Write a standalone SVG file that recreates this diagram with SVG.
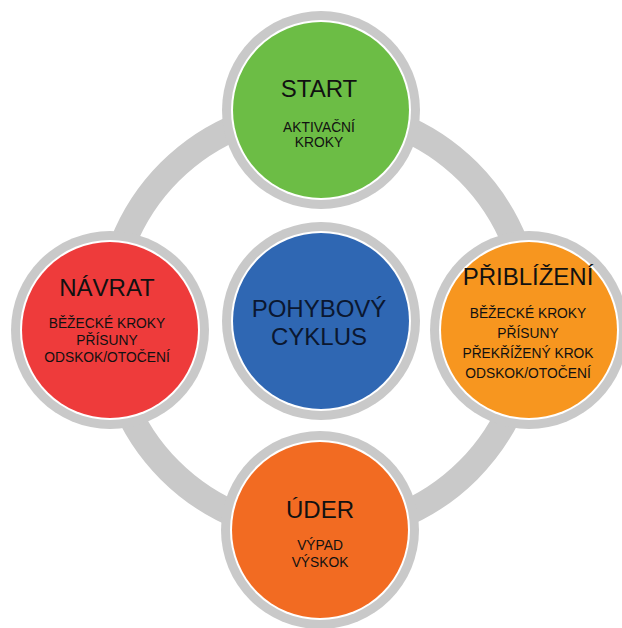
<svg xmlns="http://www.w3.org/2000/svg" width="622" height="628" viewBox="0 0 622 628">
<style>
.g{fill:#c9c9c9}
.w{fill:#ffffff}
.t{font-family:"Liberation Sans",Arial,sans-serif;text-anchor:middle;fill:#111111}
.h{font-size:24px}
.s{font-size:13.8px}
</style>
<rect width="622" height="628" fill="#ffffff"/>
<g id="connectors">
<circle cx="319" cy="321" r="211" fill="none" stroke="#c9c9c9" stroke-width="26"/>
</g>
<g id="start">
<circle class="g" cx="321" cy="110" r="99"/>
<circle class="w" cx="321" cy="110" r="90"/>
<circle cx="321" cy="110" r="88" fill="#6cbd45"/>
<text class="t h" x="319" y="97">START</text>
<text class="t s" x="319" y="132">AKTIVAČNÍ</text>
<text class="t s" x="319" y="147">KROKY</text>
</g>
<g id="priblizeni">
<circle class="g" cx="529" cy="330" r="99"/>
<circle class="w" cx="529" cy="330" r="90"/>
<circle cx="529" cy="330" r="88" fill="#f7961f"/>
<text class="t h" x="528" y="285">PŘIBLÍŽENÍ</text>
<text class="t s" x="528" y="318">BĚŽECKÉ KROKY</text>
<text class="t s" x="528" y="338">PŘÍSUNY</text>
<text class="t s" x="528" y="358">PŘEKŘÍŽENÝ KROK</text>
<text class="t s" x="528" y="378">ODSKOK/OTOČENÍ</text>
</g>
<g id="uder">
<circle class="g" cx="320" cy="530" r="99"/>
<circle class="w" cx="320" cy="530" r="90"/>
<circle cx="320" cy="530" r="88" fill="#f26b22"/>
<text class="t h" x="320" y="518">ÚDER</text>
<text class="t s" x="320" y="550">VÝPAD</text>
<text class="t s" x="320" y="567">VÝSKOK</text>
</g>
<g id="navrat">
<circle class="g" cx="110" cy="330" r="99"/>
<circle class="w" cx="110" cy="330" r="90"/>
<circle cx="110" cy="330" r="88" fill="#ee3b3b"/>
<text class="t h" x="107" y="296">NÁVRAT</text>
<text class="t s" x="107" y="328">BĚŽECKÉ KROKY</text>
<text class="t s" x="107" y="345">PŘÍSUNY</text>
<text class="t s" x="107" y="362">ODSKOK/OTOČENÍ</text>
</g>
<g id="pohybovy-cyklus">
<circle class="g" cx="321" cy="321" r="99"/>
<circle class="w" cx="321" cy="321" r="90"/>
<circle cx="321" cy="321" r="88" fill="#2f67b3"/>
<text class="t h" x="319" y="317" style="fill:#0b1730">POHYBOVÝ</text>
<text class="t h" x="319" y="345" style="fill:#0b1730">CYKLUS</text>
</g>
</svg>
